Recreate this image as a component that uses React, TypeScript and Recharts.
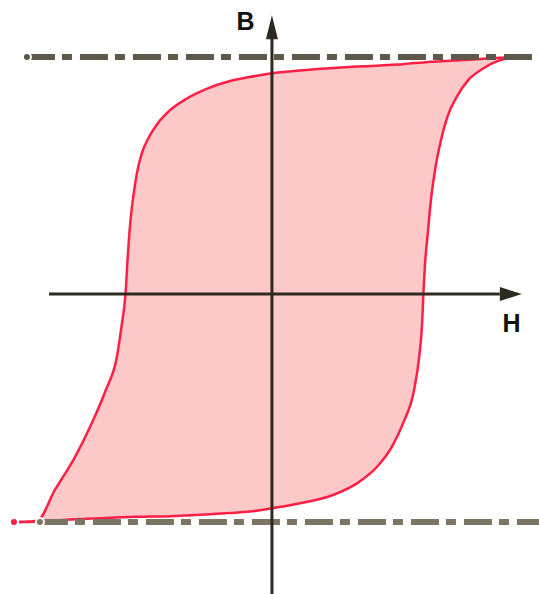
import { ComposedChart, Area, Line, XAxis, YAxis, ReferenceLine, ReferenceDot } from 'recharts'

// magnetising field H (arbitrary units), sampled along the loop
const fieldH = [
  -105.3, -100.5, -95.9, -88.6, -80.4, -73.5, -67.8, -63.3, -61.2, -60.2, -59.6, -59.0,
  -58.4, -57.6, -56.5, -55.1, -53.1, -50.2, -46.5, -41.6, -35.1, -26.9, -17.1,
  -9.0, 0, 11.4, 24.9, 34.7, 42.9, 49.0, 53.5, 58.0, 60.1, 61.3, 61.8, 62.4,
  63.6, 64.9, 66.8, 69.0, 71.6, 75.4, 80.1, 86.2, 93.1, 100.0,
]

// descending branch (coming back from +saturation)
const branchUp = [
  -96.2, -96.1, -95.8, -82.7, -68.8, -54.4, -40.5, -26.6, -12.2, -4.6, 2.5, 13.5,
  22.8, 32.5, 41.8, 51.1, 59.5, 66.2, 72.2, 77.6, 82.3, 86.5, 89.9,
  91.6, 93.2, 94.3, 95.4, 96.0, 96.4, 96.8, 97.0, 97.5, 97.6, 97.7, 97.7, 97.8,
  97.9, 98.0, 98.1, 98.2, 98.4, 98.6, 98.9, 99.3, 99.7, 100,
]

// ascending branch (coming up from -saturation)
const branchDown = [
  -96.2, -96.2, -96.0, -95.6, -95.1, -94.7, -94.5, -94.3, -94.2, -94.2, -94.1, -94.1,
  -94.1, -94.1, -94.0, -94.0, -94.0, -93.9, -93.9, -93.8, -93.5, -93.0, -92.4,
  -91.8, -90.4, -88.3, -84.8, -79.9, -72.9, -64.4, -54.6, -40.5, -26.5, -12.2, 0, 11.5,
  25.6, 39.7, 53.7, 65.0, 74.8, 83.2, 90.3, 95.2, 98.7, 100,
]

// saturation levels (dash-dot guides)
const satTopSpan = [-100, 109]
const satBottomSpan = [-94.7, 109]
const satTop = 100
const satBottom = -96.2

const loopData = fieldH.map((h, i) => ({ h, band: [branchDown[i], branchUp[i]] }))
const topGuide = satTopSpan.map((h) => ({ h, b: satTop }))
const bottomGuide = satBottomSpan.map((h) => ({ h, b: satBottom }))

const axisColor = '#2f2a20'

function ArrowRight(props: any) {
  const { cx, cy } = props
  return <polygon points={`${cx},${cy} ${cx - 22},${cy - 7} ${cx - 22},${cy + 7}`} fill={axisColor} />
}

function ArrowUp(props: any) {
  const { cx, cy } = props
  return <polygon points={`${cx},${cy} ${cx - 6},${cy + 24} ${cx + 6},${cy + 24}`} fill={axisColor} />
}

const axisText = (t: string) => (props: any) => (
  <text
    x={props.cx}
    y={props.cy}
    textAnchor="middle"
    dominantBaseline="central"
    fontFamily="Liberation Sans, Arial, sans-serif"
    fontWeight="bold"
    fontSize={25}
    fill="#111"
  >
    {t}
  </text>
)

export default function App() {
  return (
    <div style={{ position: 'absolute', left: 0, top: 0 }}>
      <ComposedChart width={539} height={594} data={loopData} margin={{ top: 0, right: 0, bottom: 0, left: 0 }}>
        <XAxis dataKey="h" type="number" domain={[-111, 109]} allowDataOverflow hide />
        <YAxis type="number" domain={[-126.6, 124.1]} allowDataOverflow hide />
        <Line
          data={topGuide}
          dataKey="b"
          stroke="#5e584a"
          strokeWidth={6}
          strokeDasharray="28 7 10 8"
          dot={false}
          isAnimationActive={false}
        />
        <Line
          data={bottomGuide}
          dataKey="b"
          stroke="#7d7563"
          strokeWidth={6}
          strokeDasharray="28 7 10 8"
          dot={false}
          isAnimationActive={false}
        />
        <Area
          type="monotone"
          dataKey="band"
          stroke="#ff1f44"
          strokeWidth={2.5}
          fill="#fdc8c8"
          fillOpacity={1}
          isAnimationActive={false}
        />
        <ReferenceLine segment={[{ x: -91, y: 0 }, { x: 93, y: 0 }]} stroke={axisColor} strokeWidth={3} />
        <ReferenceLine segment={[{ x: 0, y: 108 }, { x: 0, y: -126.6 }]} stroke={axisColor} strokeWidth={3} />
        <ReferenceDot x={102} y={0} r={0} shape={ArrowRight} />
        <ReferenceDot x={0} y={117.7} r={0} shape={ArrowUp} />
        <ReferenceDot x={97.8} y={-12.2} r={0} shape={axisText('H')} />
        <ReferenceDot x={-10.8} y={115.2} r={0} shape={axisText('B')} />
      </ComposedChart>
    </div>
  )
}
